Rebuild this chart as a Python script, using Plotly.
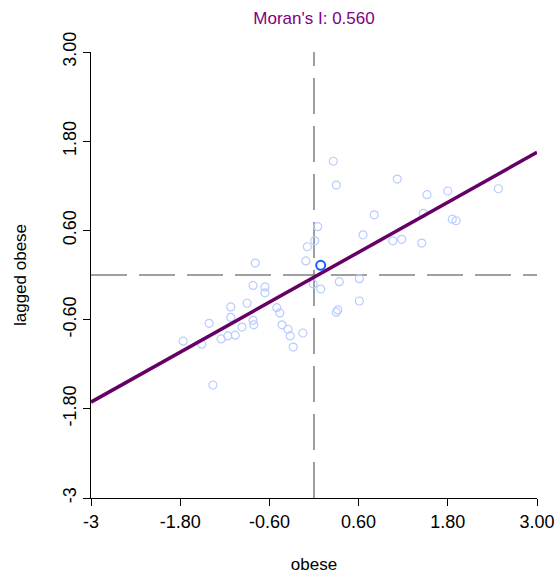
import plotly.graph_objects as go

# Standardized obesity rate (x) and its spatial lag (y) per area
obese = [0.26, 0.30, 1.12, 1.52, 1.80, 2.48, 0.81, 1.47, 1.86, 1.91,
         0.05, 0.01, -0.09, 0.66, 1.06, 1.18, 1.45, -0.11, -0.79,
         0.34, 0.61, 0.61, 0.30, 0.32, -0.01, 0.09, -0.82, -0.66, -0.66,
         -0.50, -0.46, -0.43, -0.35, -0.32, -0.15, -0.28, -0.90, -1.12,
         -1.12, -1.41, -1.76, -1.51, -1.25, -1.16, -1.06, -0.97, -0.82,
         -0.81, -1.36]
lagged_obese = [1.53, 1.21, 1.29, 1.08, 1.13, 1.16, 0.81, 0.83, 0.75, 0.73,
                0.65, 0.46, 0.38, 0.54, 0.46, 0.48, 0.43, 0.19, 0.16,
                -0.09, -0.05, -0.35, -0.50, -0.47, -0.12, -0.19, -0.14, -0.16, -0.24,
                -0.44, -0.51, -0.67, -0.73, -0.82, -0.78, -0.97, -0.38, -0.43,
                -0.57, -0.65, -0.89, -0.93, -0.86, -0.82, -0.81, -0.70, -0.61,
                -0.67, -1.48]

# Currently selected observation
selected_x = [0.09]
selected_y = [0.13]

morans_i = 0.560
intercept = -0.03

tick_vals = [-3, -1.8, -0.6, 0.6, 1.8, 3.0]
tick_text = ["-3", "-1.80", "-0.60", "0.60", "1.80", "3.00"]

FONT = "Liberation Sans, Arial, sans-serif"
GREY = "#808080"

fig = go.Figure()

# Dashed reference lines through the means
fig.add_shape(type="line", x0=0, x1=0, y0=-3, y1=3, xref="x", yref="y",
              line=dict(color=GREY, width=1.5, dash="36px,12px"), layer="below")
fig.add_shape(type="line", x0=-3, x1=3, y0=0, y1=0, xref="x", yref="y",
              line=dict(color=GREY, width=1.5, dash="36px,12px"), layer="below")

fig.add_trace(go.Scatter(
    x=obese, y=lagged_obese, mode="markers",
    marker=dict(symbol="circle-open", size=8, color="#b8ccff",
                line=dict(width=1.2, color="#b8ccff")),
    hoverinfo="skip", showlegend=False))

# Regression line with slope equal to Moran's I
line_x = [-3, 3]
line_y = [intercept + morans_i * v for v in line_x]
fig.add_trace(go.Scatter(
    x=line_x, y=line_y, mode="lines",
    line=dict(color="#660066", width=3.5),
    hoverinfo="skip", showlegend=False))

fig.add_trace(go.Scatter(
    x=selected_x, y=selected_y, mode="markers",
    marker=dict(symbol="circle-open", size=9, color="#1a5cff",
                line=dict(width=2, color="#1a5cff")),
    hoverinfo="skip", showlegend=False))

axis_common = dict(
    range=[-3, 3], tickmode="array", tickvals=tick_vals, ticktext=tick_text,
    showgrid=False, zeroline=False, showline=True, linecolor="black", linewidth=1,
    ticks="outside", ticklen=7, tickcolor="black", tickwidth=1,
    tickfont=dict(family=FONT, size=18, color="black"),
    automargin=False,
)

fig.update_layout(
    width=557, height=574,
    margin=dict(l=91, r=20, t=52, b=76),
    paper_bgcolor="white", plot_bgcolor="white",
    font=dict(family=FONT, size=17, color="black"),
    title=dict(text=f"Moran's I: {morans_i:.3f}", x=0.5, xref="paper",
               y=1 - 18 / 574, yref="container", yanchor="middle",
               font=dict(family=FONT, size=17, color="#800080"),
               automargin=False),
    xaxis=dict(**axis_common,
               title=dict(text="obese", standoff=27,
                          font=dict(family=FONT, size=17, color="black"))),
    yaxis=dict(**axis_common, tickangle=-90,
               title=dict(text="lagged obese", standoff=28,
                          font=dict(family=FONT, size=17, color="black"))),
)

fig.write_html("out.html")
